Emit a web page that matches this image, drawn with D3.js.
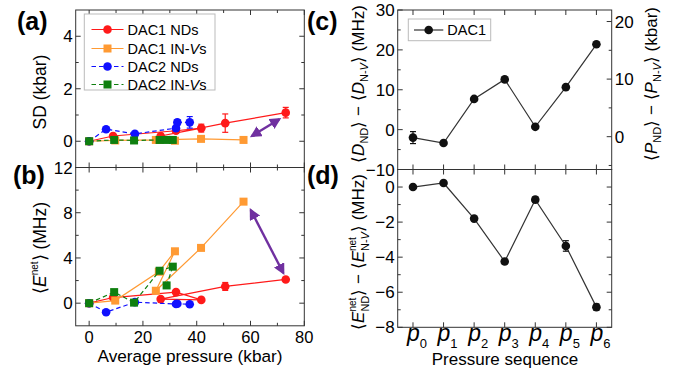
<!DOCTYPE html>
<html><head><meta charset="utf-8">
<script src="https://cdn.jsdelivr.net/npm/d3@7"></script>
<style>body{margin:0;background:#fff}svg{display:block}text{font-family:"Liberation Sans",Arial,sans-serif}</style>
</head><body><svg id="c" width="675" height="368"></svg>
<script>
// ---------------- data ----------------
const seriesNames = ["DAC1 NDs", "DAC1 IN-Vs", "DAC2 NDs", "DAC2 IN-Vs"];
// DAC1 NDs (in pressure sequence p0..p6)
const dac1NDPressure = [0, 8.9, 32.3, 41.7, 26.6, 50.6, 73.1];
const dac1NDSD       = [0, 0.2, 0.4, 0.5, 0.2, 0.69, 1.09];
const dac1NDSDErr    = [0, 0.05, 0.05, 0.15, 0.05, 0.35, 0.2];
const dac1NDE        = [0, 0.5, 0.98, 0.29, 0.36, 1.48, 2.1];
const dac1NDEErr     = [0, 0.1, 0.1, 0.1, 0.1, 0.35, 0.15];
// DAC1 IN-Vs
const dac1NVPressure = [0, 9.7, 25.9, 31.9, 24.8, 41.6, 57.4];
const dac1NVSD       = [0, 0.03, 0.05, 0.02, 0.05, 0.09, 0.05];
const dac1NVE        = [0, 0.23, 2.78, 4.59, 1.1, 4.89, 8.98];
// DAC2 NDs
const dac2NDPressure = [0, 6.3, 17.0, 32.3, 32.8, 37.4];
const dac2NDSD       = [0, 0.46, 0.28, 0.5, 0.72, 0.72];
const dac2NDSDErr    = [0, 0.03, 0.03, 0.05, 0.1, 0.22];
const dac2NDE        = [0, -0.8, 0.09, -0.07, -0.05, -0.1];
// DAC2 IN-Vs
const dac2NVPressure = [0, 9.3, 16.7, 26.2, 31.1, 28.8];
const dac2NVSD       = [0, 0.05, 0.03, 0.05, 0.05, 0.05];
const dac2NVE        = [0, 0.98, 0.05, 2.87, 3.23, 1.57];
// panels (c),(d): DAC1 differences vs pressure sequence
const seqIndex = [0, 1, 2, 3, 4, 5, 6];
const dDiff    = [-2.0, -3.35, 7.7, 12.6, 0.7, 10.65, 21.4];
const dDiffErr = [1.5, 0.3, 0.2, 0.2, 0.2, 0.2, 0.3];
const eDiff    = [0, 0.23, -1.8, -4.25, -0.72, -3.36, -6.85];
const eDiffErr = [0.05, 0.08, 0.08, 0.12, 0.15, 0.3, 0.18];
// annotation arrows (data coords)
const arrowA = [[60.5, 0.2], [70.7, 0.84]];
const arrowB = [[60.1, 8.23], [72.2, 2.67]];
// ticks
const xTicksMajor = [0, 20, 40, 60, 80], xTicksMinor = [10, 30, 50, 70];
const aTicksMajor = [0, 2, 4], aTicksMinor = [1, 3];
const bTicksMajor = [0, 4, 8, 12], bTicksMinor = [2, 6, 10];
const cTicksMajor = [-10, 0, 10, 20, 30], cTicksMinor = [-5, 5, 15, 25];
const cRTicksMajor = [0, 10, 20], cRTicksMinor = [-5, 5, 15];
const dTicksMajor = [-8, -6, -4, -2, 0], dTicksMinor = [-7, -5, -3, -1];

// ---------------- setup ----------------
const svg = d3.select("#c");
const RED = "#ff1a1a", ORANGE = "#ff9a33", BLUE = "#1010ff", GREEN = "#0f7f0f", PURPLE = "#7030a0", FRAME = "#333";

const xL = d3.scaleLinear([-5, 80], [75.7, 304.3]);
const yA = d3.scaleLinear([-1, 5], [167.5, 10]);
const yB = d3.scaleLinear([-2, 12], [325.8, 167.5]);
const xR = d3.scaleLinear([-0.5, 6.5], [397.7, 611.7]);
const yC = d3.scaleLinear([-10, 30], [169.5, 10]);
const yCR = d3.scaleLinear([-5.7, 22.0], [169.5, 10]);
const yD = d3.scaleLinear([-8, 1], [327.3, 169.5]);

const defs = svg.append("defs");
defs.append("marker").attr("id", "ah").attr("viewBox", "0 0 10 10").attr("refX", 8).attr("refY", 5)
  .attr("markerWidth", 4.8).attr("markerHeight", 4.8).attr("orient", "auto-start-reverse").attr("markerUnits", "strokeWidth")
  .append("path").attr("d", "M0,0 L10,5 L0,10 z").attr("fill", PURPLE);

function fmt(v) { return v < 0 ? "\u2212" + Math.abs(v) : String(v); }

function drawAxis(x, y, opts) {
  const g = svg.append("g");
  const [x0, x1] = x.range(), [y0, y1] = y.range();
  const L = 5, l = 3;
  const tickX = (vals, len) => vals.forEach(v => {
    const px = x(v);
    g.append("line").attr("x1", px).attr("x2", px).attr("y1", y0).attr("y2", y0 - len).attr("stroke", FRAME);
    g.append("line").attr("x1", px).attr("x2", px).attr("y1", y1).attr("y2", y1 + len).attr("stroke", FRAME);
  });
  tickX(opts.xMajor, L); tickX(opts.xMinor || [], l);
  const tickY = (vals, len, sc, left, right) => vals.forEach(v => {
    const py = sc(v);
    if (left) g.append("line").attr("x1", x0).attr("x2", x0 + len).attr("y1", py).attr("y2", py).attr("stroke", FRAME);
    if (right) g.append("line").attr("x1", x1).attr("x2", x1 - len).attr("y1", py).attr("y2", py).attr("stroke", FRAME);
  });
  tickY(opts.yMajor, L, y, true, !opts.yRight);
  tickY(opts.yMinor || [], l, y, true, !opts.yRight);
  if (opts.yRight) { tickY(opts.yRight.major, L, opts.yRight.scale, false, true); tickY(opts.yRight.minor, l, opts.yRight.scale, false, true); }
  g.append("rect").attr("x", x0).attr("y", y1).attr("width", x1 - x0).attr("height", y0 - y1)
    .attr("fill", "none").attr("stroke", FRAME).attr("stroke-width", 1);
  if (opts.yLabels) opts.yMajor.forEach(v => {
    g.append("text").attr("x", x0 - 3).attr("y", y(v)).attr("dy", "0.36em").attr("text-anchor", "end")
      .attr("font-size", 17).text(fmt(v));
  });
  if (opts.yRight && opts.yRight.labels) opts.yRight.major.forEach(v => {
    g.append("text").attr("x", x1 + 3).attr("y", opts.yRight.scale(v)).attr("dy", "0.36em").attr("text-anchor", "start")
      .attr("font-size", 17).text(fmt(v));
  });
  if (opts.xLabels) opts.xMajor.forEach(v => {
    g.append("text").attr("x", x(v)).attr("y", y0 + 16.7).attr("text-anchor", "middle").attr("font-size", 16.5).text(fmt(v));
  });
  return g;
}

drawAxis(xL, yA, {xMajor: xTicksMajor, xMinor: xTicksMinor, yMajor: aTicksMajor, yMinor: aTicksMinor, yLabels: true});
drawAxis(xL, yB, {xMajor: xTicksMajor, xMinor: xTicksMinor, yMajor: bTicksMajor, yMinor: bTicksMinor, yLabels: true, xLabels: true});
drawAxis(xR, yC, {xMajor: seqIndex, yMajor: cTicksMajor, yMinor: cTicksMinor, yLabels: true,
  yRight: {scale: yCR, major: cRTicksMajor, minor: cRTicksMinor, labels: true}});
drawAxis(xR, yD, {xMajor: seqIndex, yMajor: dTicksMajor, yMinor: dTicksMinor, yLabels: true});

// ---------------- series ----------------
function series(x, y, xs, ys, errs, color, lineColor, shape, dashed) {
  const g = svg.append("g");
  const pts = xs.map((v, i) => [x(v), y(ys[i])]);
  g.append("path").attr("d", d3.line()(pts)).attr("fill", "none").attr("stroke", lineColor)
    .attr("stroke-width", 1.2).attr("stroke-dasharray", dashed ? "4.5,3" : null);
  if (errs) xs.forEach((v, i) => {
    const e = errs[i]; if (!e) return;
    const px = x(v), a = y(ys[i] + e), b = y(ys[i] - e);
    g.append("line").attr("x1", px).attr("x2", px).attr("y1", a).attr("y2", b).attr("stroke", color).attr("stroke-width", 1.2);
    [a, b].forEach(q => g.append("line").attr("x1", px - 3).attr("x2", px + 3).attr("y1", q).attr("y2", q).attr("stroke", color).attr("stroke-width", 1.2));
  });
  pts.forEach(([px, py]) => {
    if (shape === "circle") g.append("circle").attr("cx", px).attr("cy", py).attr("r", 4.3).attr("fill", color);
    else g.append("rect").attr("x", px - 4).attr("y", py - 4).attr("width", 8).attr("height", 8).attr("fill", color);
  });
}
// panel (a)
series(xL, yA, dac1NDPressure, dac1NDSD, dac1NDSDErr, RED, RED, "circle", false);
series(xL, yA, dac1NVPressure, dac1NVSD, null, ORANGE, ORANGE, "square", false);
series(xL, yA, dac2NDPressure, dac2NDSD, dac2NDSDErr, BLUE, BLUE, "circle", true);
series(xL, yA, dac2NVPressure, dac2NVSD, null, GREEN, GREEN, "square", true);
// panel (b)
series(xL, yB, dac1NDPressure, dac1NDE, dac1NDEErr, RED, RED, "circle", false);
series(xL, yB, dac1NVPressure, dac1NVE, null, ORANGE, ORANGE, "square", false);
series(xL, yB, dac2NDPressure, dac2NDE, null, BLUE, BLUE, "circle", true);
series(xL, yB, dac2NVPressure, dac2NVE, null, GREEN, GREEN, "square", true);
// panels (c),(d)
series(xR, yC, seqIndex, dDiff, dDiffErr, "#111", "#333", "circle", false);
series(xR, yD, seqIndex, eDiff, eDiffErr, "#111", "#333", "circle", false);

// arrows
[[arrowA, yA], [arrowB, yB]].forEach(([arr, y]) => {
  svg.append("line").attr("x1", xL(arr[0][0])).attr("y1", y(arr[0][1])).attr("x2", xL(arr[1][0])).attr("y2", y(arr[1][1]))
    .attr("stroke", PURPLE).attr("stroke-width", 2.4).attr("marker-start", "url(#ah)").attr("marker-end", "url(#ah)");
});

// ---------------- legends ----------------
const legA = svg.append("g");
legA.append("rect").attr("x", 84.3).attr("y", 14).attr("width", 130.7).attr("height", 76).attr("fill", "#fff").attr("stroke", "#bbb");
const legColors = [RED, ORANGE, BLUE, GREEN], legShapes = ["circle", "square", "circle", "square"], legDash = [false, false, true, true];
const legY = [29.5, 48.5, 66.5, 84.5];
seriesNames.forEach((name, i) => {
  const yy = legY[i];
  legA.append("line").attr("x1", 91.5).attr("x2", 123.5).attr("y1", yy).attr("y2", yy).attr("stroke", legColors[i])
    .attr("stroke-width", 1.2).attr("stroke-dasharray", legDash[i] ? "4.5,3" : null);
  if (legShapes[i] === "circle") legA.append("circle").attr("cx", 107.5).attr("cy", yy).attr("r", 4.3).attr("fill", legColors[i]);
  else legA.append("rect").attr("x", 103.5).attr("y", yy - 4).attr("width", 8).attr("height", 8).attr("fill", legColors[i]);
  const t = legA.append("text").attr("x", 127.5).attr("y", yy).attr("dy", "0.36em").attr("font-size", 14.5);
  const m = name.match(/^(.*IN-)(V)(s)$/);
  if (m) { t.append("tspan").text(m[1]); t.append("tspan").attr("font-style", "italic").text(m[2]); t.append("tspan").text(m[3]); }
  else t.text(name);
});
const legC = svg.append("g");
legC.append("rect").attr("x", 408.3).attr("y", 19).attr("width", 82.4).attr("height", 21.7).attr("fill", "#fff").attr("stroke", "#bbb");
legC.append("line").attr("x1", 414).attr("x2", 443.3).attr("y1", 30).attr("y2", 30).attr("stroke", "#333").attr("stroke-width", 1.2);
legC.append("circle").attr("cx", 428.7).attr("cy", 30).attr("r", 4.3).attr("fill", "#111");
legC.append("text").attr("x", 447.3).attr("y", 30).attr("dy", "0.36em").attr("font-size", 14.5).text("DAC1");

// ---------------- labels ----------------
function runs(text, parts) {
  let cur = 0, prev = null;
  parts.forEach(p => {
    const ts = text.append("tspan").text(p.t);
    const sh = p.shift || 0;
    if (sh !== cur) ts.attr("dy", sh - cur);
    cur = sh;
    if (p.size) ts.attr("font-size", p.size);
    if (p.it) ts.attr("font-style", "italic");
    if (p.back && prev) ts.attr("dx", -prev.node().getComputedTextLength());
    prev = ts;
  });
}
function rotLabel(x, y, size, parts) {
  const t = svg.append("text").attr("transform", `translate(${x},${y}) rotate(-90)`).attr("text-anchor", "middle").attr("font-size", size);
  runs(t, parts);
  return t;
}
rotLabel(46, 92, 17.5, [{t: "SD (kbar)"}]);
rotLabel(46, 248, 17.5, [{t: "\u27E8"}, {t: "E", it: true}, {t: "net", size: 10, shift: -8}, {t: "\u27E9 (MHz)", shift: 0}]);
rotLabel(364, 84, 17, [{t: "\u27E8"}, {t: "D", it: true}, {t: "ND", size: 11, shift: 4}, {t: "\u27E9 \u2212 \u27E8", shift: 0},
  {t: "D", it: true}, {t: "N-", size: 11, shift: 4}, {t: "V", size: 11, shift: 4, it: true}, {t: "\u27E9 (MHz)", shift: 0}]);
rotLabel(364, 252, 17, [{t: "\u27E8"}, {t: "E", it: true}, {t: "net", size: 10, shift: -8}, {t: "ND", size: 11, shift: 5, back: true},
  {t: "\u27E9 \u2212 \u27E8", shift: 0}, {t: "E", it: true}, {t: "net", size: 10, shift: -8}, {t: "N-", size: 11, shift: 5, back: true},
  {t: "V", size: 11, shift: 5, it: true}, {t: "\u27E9 (MHz)", shift: 0}]);
rotLabel(657, 84, 17, [{t: "\u27E8"}, {t: "P", it: true}, {t: "ND", size: 11, shift: 4}, {t: "\u27E9 \u2212 \u27E8", shift: 0},
  {t: "P", it: true}, {t: "N-", size: 11, shift: 4}, {t: "V", size: 11, shift: 4, it: true}, {t: "\u27E9 (kbar)", shift: 0}]);

svg.append("text").attr("x", xL(37.5)).attr("y", 362.3).attr("text-anchor", "middle").attr("font-size", 17.2).text("Average pressure (kbar)");
svg.append("text").attr("x", 505).attr("y", 364.5).attr("text-anchor", "middle").attr("font-size", 17).text("Pressure sequence");
seqIndex.forEach(i => {
  const t = svg.append("text").attr("x", xR(i) - 6).attr("y", 340.5).attr("text-anchor", "start").attr("font-size", 23);
  t.append("tspan").attr("font-style", "italic").text("p");
  t.append("tspan").attr("font-size", 13).attr("dy", 7.5).text(String(i));
});

[["(a)", 17, 30], ["(b)", 13, 184], ["(c)", 307, 30], ["(d)", 307, 184]].forEach(([s, x, y]) => {
  svg.append("text").attr("x", x).attr("y", y).attr("font-size", 25).attr("font-weight", "bold").text(s);
});
</script></body></html>
